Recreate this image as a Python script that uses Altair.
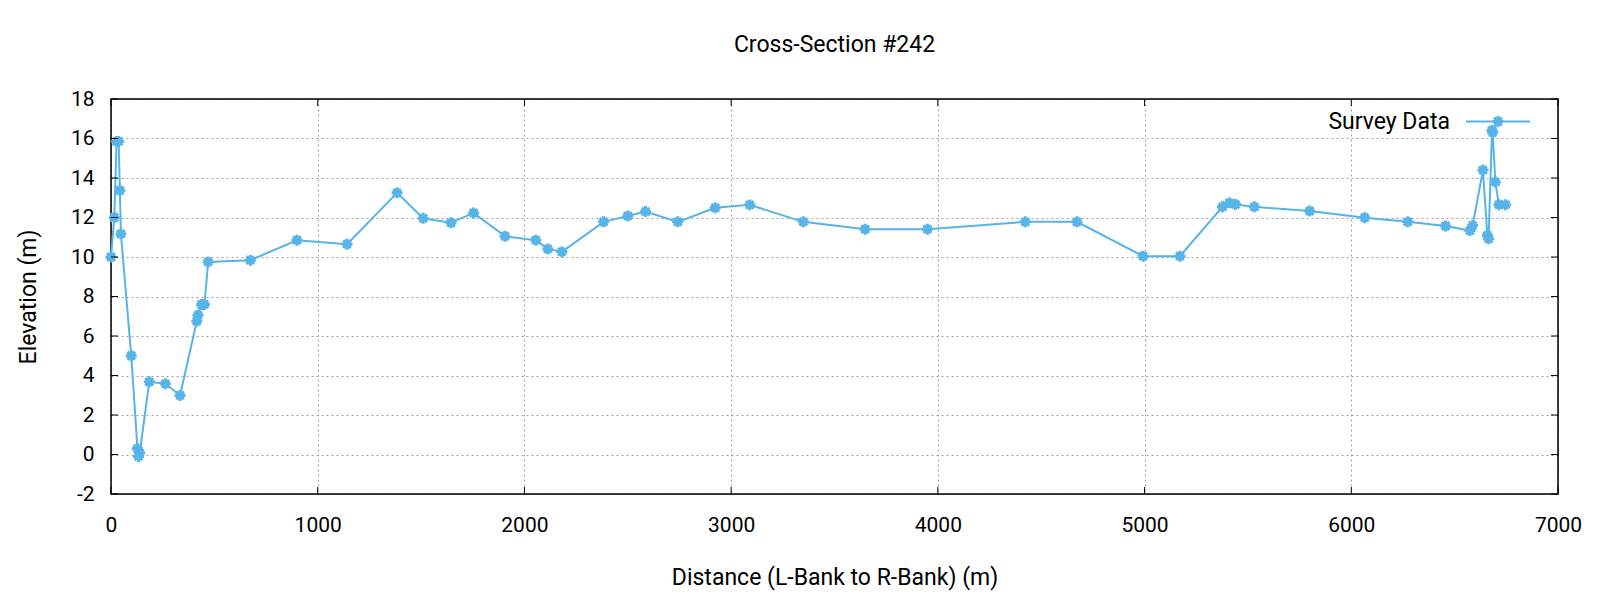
import altair as alt
import pandas as pd

# Survey data: distance from left bank (m) and elevation (m)
distance = [0, 16, 27, 37, 43, 48, 98, 128, 133, 139, 185, 263, 334, 415, 421, 438, 452, 470,
            674, 900, 1142, 1384, 1510, 1645, 1754, 1906, 2055, 2113, 2181, 2383, 2500, 2586,
            2742, 2923, 3090, 3349, 3648, 3950, 4423, 4673, 4993, 5171, 5377, 5410, 5440, 5531,
            5799, 6065, 6273, 6456, 6574, 6587, 6637, 6658, 6664, 6681, 6684, 6697, 6714, 6746]
elevation = [10.0, 12.0, 15.85, 15.85, 13.37, 11.17, 5.0, 0.3, -0.1, 0.08, 3.68, 3.58, 2.99,
             6.75, 7.05, 7.6, 7.6, 9.75, 9.84, 10.85, 10.65, 13.25, 11.96, 11.73, 12.23, 11.05,
             10.85, 10.41, 10.26, 11.78, 12.08, 12.3, 11.78, 12.49, 12.64, 11.78, 11.41, 11.41,
             11.78, 11.78, 10.04, 10.04, 12.54, 12.74, 12.66, 12.54, 12.33, 11.99, 11.78, 11.57,
             11.34, 11.59, 14.4, 11.1, 10.92, 16.42, 16.3, 13.8, 12.65, 12.65]

x_ticks = [0, 1000, 2000, 3000, 4000, 5000, 6000, 7000]
y_ticks = [-2, 0, 2, 4, 6, 8, 10, 12, 14, 16, 18]

title_text = "Cross-Section #242"
x_title = "Distance (L-Bank to R-Bank) (m)"
y_title = "Elevation (m)"
legend_label = "Survey Data"

FONT = "Roboto"
COLOR = "#56B4E9"
W, H = 1447, 395
FS = 21      # tick labels
TFS = 23     # titles / legend
STAR = "M-1,0L1,0M0,-1L0,1M-0.7,-0.7L0.7,0.7M-0.7,0.7L0.7,-0.7"

df = pd.DataFrame({"d": distance, "e": elevation, "i": range(len(distance))})
xt = pd.DataFrame({"d": x_ticks})
yt = pd.DataFrame({"e": y_ticks})

xscale = alt.Scale(domain=[0, 7000], nice=False, zero=False)
yscale = alt.Scale(domain=[-2, 18], nice=False, zero=False)

common = dict(grid=True, gridDash=[2, 3], gridColor="#a0a0a0", gridWidth=1,
              domain=False, ticks=False, tickSize=0, labelFontSize=FS, labelFont=FONT,
              labelColor="black", labelFlush=False, labelOverlap=False,
              labelExpr="'' + datum.value",
              titleFont=FONT, titleFontSize=TFS, titleFontWeight="normal", titleColor="black",
              titleBaseline="middle", titleAlign="center")
xaxis = alt.Axis(values=x_ticks, labelPadding=20, title=x_title, titleX=W / 2, titleY=83, **common)
yaxis = alt.Axis(values=y_ticks, labelPadding=17, title=y_title, titleX=-83, titleY=H / 2,
                 titleAngle=270, **common)

X = alt.X("d:Q", scale=xscale, axis=xaxis)
Y = alt.Y("e:Q", scale=yscale, axis=yaxis)

base = alt.Chart(df)
line = base.mark_line(color=COLOR, strokeWidth=2).encode(x=X, y=Y, order="i:Q")
pts = base.mark_point(shape=STAR, size=120, strokeWidth=3, filled=False, color=COLOR,
                      opacity=1).encode(x=X, y=Y)

tick_len = 7
top_ticks = alt.Chart(xt).mark_rule(color="black", strokeWidth=1).encode(
    x=X, y=alt.value(0), y2=alt.value(tick_len))
bot_ticks = alt.Chart(xt).mark_rule(color="black", strokeWidth=1).encode(
    x=X, y=alt.value(H - tick_len), y2=alt.value(H))
left_ticks = alt.Chart(yt).mark_rule(color="black", strokeWidth=1).encode(
    y=Y, x=alt.value(0), x2=alt.value(tick_len))
right_ticks = alt.Chart(yt).mark_rule(color="black", strokeWidth=1).encode(
    y=Y, x=alt.value(W - tick_len), x2=alt.value(W))

leg_df = pd.DataFrame({"t": [legend_label]})
border = alt.Chart(leg_df).mark_rect(filled=False, stroke="black", strokeWidth=1.5).encode(
    x=alt.value(0), x2=alt.value(W), y=alt.value(0), y2=alt.value(H))
leg_text = alt.Chart(leg_df).mark_text(align="right", baseline="middle", fontSize=TFS, font=FONT,
                                       color="black").encode(
    text="t:N", x=alt.value(1339), y=alt.value(22.5))
leg_line = alt.Chart(leg_df).mark_rule(color=COLOR, strokeWidth=2).encode(
    x=alt.value(1355), x2=alt.value(1419), y=alt.value(22.5))
leg_pt = alt.Chart(leg_df).mark_point(shape=STAR, size=120, strokeWidth=3, filled=False,
                                      color=COLOR, opacity=1).encode(
    x=alt.value(1387), y=alt.value(22.5))

chart = alt.layer(border, line, pts, top_ticks, bot_ticks, left_ticks, right_ticks,
                  leg_line, leg_pt, leg_text).properties(
    width=W, height=H,
    title=alt.TitleParams(title_text, frame="group", offset=31, fontSize=TFS, font=FONT,
                          fontWeight="normal", color="black", anchor="middle"),
    autosize=alt.AutoSizeParams(type="none"),
    padding={"left": 103, "top": 91, "right": 30, "bottom": 100},
).configure_axis(labelOverlap=False).configure_view(stroke=None
).configure(background="white")

chart.save("out.html", embed_options={"renderer": "svg", "actions": False})
